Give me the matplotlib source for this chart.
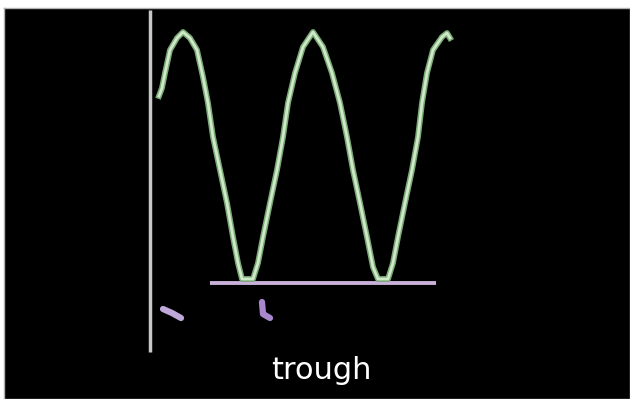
import matplotlib.pyplot as plt

# wave (pixel-like units, y grows downward)
wave_x = [159, 162, 165, 170, 177, 183, 190, 197, 203, 208, 213, 220, 227, 233, 238, 242,
          253, 258, 263, 270, 277, 283, 288, 295, 303, 313, 323, 332, 340, 347, 353, 360,
          367, 373, 378, 388, 393, 398, 405, 412, 418, 422, 427, 433, 442, 447, 450]
wave_y = [96, 88, 73, 50, 38, 32, 38, 50, 77, 103, 137, 170, 203, 237, 263, 279,
          279, 263, 237, 203, 170, 137, 103, 73, 47, 32, 47, 73, 103, 137, 170, 203,
          237, 267, 279, 279, 263, 237, 203, 170, 137, 103, 73, 50, 37, 33, 38]

# axis lines
vline_x = [150, 150]
vline_y = [10, 352]
base_x = [210, 436]
base_y = [283.5, 283.5]

# two small purple marks below the baseline
mark1_x = [163, 172, 181]
mark1_y = [309, 313, 318]
mark2_x = [262, 263, 270]
mark2_y = [302, 314, 318]

caption = 'trough'

fig = plt.figure(figsize=(6.3, 3.99), dpi=100, facecolor='white')
ax = fig.add_axes([4 / 630, 0, 626 / 630, 391 / 399])
ax.set_facecolor('black')
ax.set_xlim(4, 630)
ax.set_ylim(399, 8)
ax.set_xticks([])
ax.set_yticks([])
for s in ax.spines.values():
    s.set_color('#b0b0b0')
    s.set_linewidth(1)

ax.plot(vline_x, vline_y, color='#c8c8c8', lw=2.5, solid_capstyle='butt')
ax.plot(base_x, base_y, color='#c8b0d8', lw=2.8, solid_capstyle='butt')

ax.plot(wave_x, wave_y, color='#7aa876', lw=4.2)
ax.plot(wave_x, wave_y, color='#cfe8c8', lw=2.0)

ax.plot(mark1_x, mark1_y, color='#c0a8d8', lw=4.5, solid_capstyle='round')
ax.plot(mark2_x, mark2_y, color='#a888cc', lw=4.5, solid_capstyle='round')

ax.text(321, 371, caption, color='white', fontsize=22, ha='center', va='center',
        family='DejaVu Sans')

fig.savefig('out.png', dpi=100, facecolor='white')
